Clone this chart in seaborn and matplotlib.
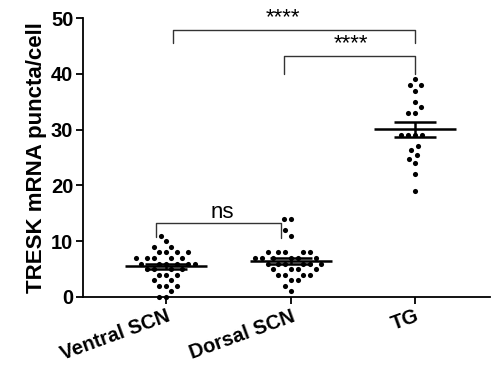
import numpy as np
import pandas as pd
import seaborn as sns
import matplotlib.pyplot as plt

# values (puncta per cell)
groups = ['Ventral SCN', 'Dorsal SCN', 'TG']
ventral = [11, 10, 9, 9, 8, 8, 8, 8, 7, 7, 7, 7, 7, 6, 6, 6, 6, 6, 6,
           5, 5, 5, 5, 4, 4, 4, 3, 3, 2, 2, 2, 1, 0, 0]
dorsal = [14, 14, 12, 11, 8, 8, 8, 8, 8, 7, 7, 7, 7, 7, 7, 6, 6, 6, 6, 6, 6,
          5, 5, 5, 5, 4, 4, 4, 4, 3, 3, 2, 1]
tg = [39, 38, 38, 37, 35, 34, 33, 33, 29, 29, 29, 29,
      27, 26.3, 25.5, 24.7, 24, 22, 19]
yticks = [0, 10, 20, 30, 40, 50]

df = pd.DataFrame({
    'group': ['Ventral SCN'] * len(ventral) + ['Dorsal SCN'] * len(dorsal) + ['TG'] * len(tg),
    'value': ventral + dorsal + tg,
})

sns.set_style('ticks')
plt.rcParams['font.family'] = ['Liberation Sans', 'DejaVu Sans']
plt.rcParams['text.color'] = 'black'
plt.rcParams['axes.labelcolor'] = 'black'

fig = plt.figure(figsize=(4.94, 3.75), dpi=100)
ax = fig.add_axes([0.168, 0.208, 0.824, 0.744])

# swarm laid out with a wide spacing (Prism-like), then dots drawn smaller
sns.swarmplot(data=df, x='group', y='value', order=groups, color='black',
              size=7.2, ax=ax, clip_on=False, zorder=3)
for coll in ax.collections:
    if 'draw' in coll.__dict__:
        del coll.draw  # keep the positions seaborn computed
    coll.set_sizes([3.7 ** 2])

# mean +/- SEM
for i, g in enumerate(groups):
    v = df.loc[df['group'] == g, 'value'].to_numpy()
    m = v.mean()
    sem = v.std(ddof=1) / np.sqrt(len(v))
    ax.hlines(m, i - 0.33, i + 0.33, color='black', lw=1.8, zorder=4)
    ax.hlines([m - sem, m + sem], i - 0.17, i + 0.17, color='black', lw=1.8, zorder=4)
    ax.vlines(i, m - sem, m + sem, color='black', lw=1.8, zorder=4)

ax.set_xlim(-0.667, 2.6)
ax.set_ylim(0, 50)
ax.set_yticks(yticks)
ax.set_yticklabels([str(t) for t in yticks], fontsize=14.5, fontweight='bold')
ax.set_xticks(range(len(groups)))
ax.set_xticklabels(groups, fontsize=14.5, fontweight='bold', rotation=20,
                   ha='right', rotation_mode='anchor')
ax.set_xlabel('')
ax.set_ylabel('TRESK mRNA puncta/cell', fontsize=16, fontweight='bold', labelpad=3)
sns.despine(ax=ax)
for s in ['left', 'bottom']:
    ax.spines[s].set_linewidth(1.3)
    ax.spines[s].set_color('black')
ax.tick_params(axis='both', width=1.3, length=5, colors='black', pad=2)

# significance brackets
def bracket(x1, x2, y, yl, yr, label, tx, ty):
    ax.plot([x1, x1, x2, x2], [yl, y, y, yr], color='#333333', lw=1.0, clip_on=False)
    ax.text(tx, ty, label, ha='center', va='center', fontsize=16, clip_on=False)

bracket(-0.08, 0.92, 13.3, 10.7, 10.6, 'ns', 0.45, 15.2)
bracket(0.056, 2.0, 47.8, 45.5, 45.5, '****', 0.94, 50.0)
bracket(0.95, 2.0, 43.2, 40.0, 40.0, '****', 1.48, 45.4)

fig.savefig('out.png', dpi=100)
